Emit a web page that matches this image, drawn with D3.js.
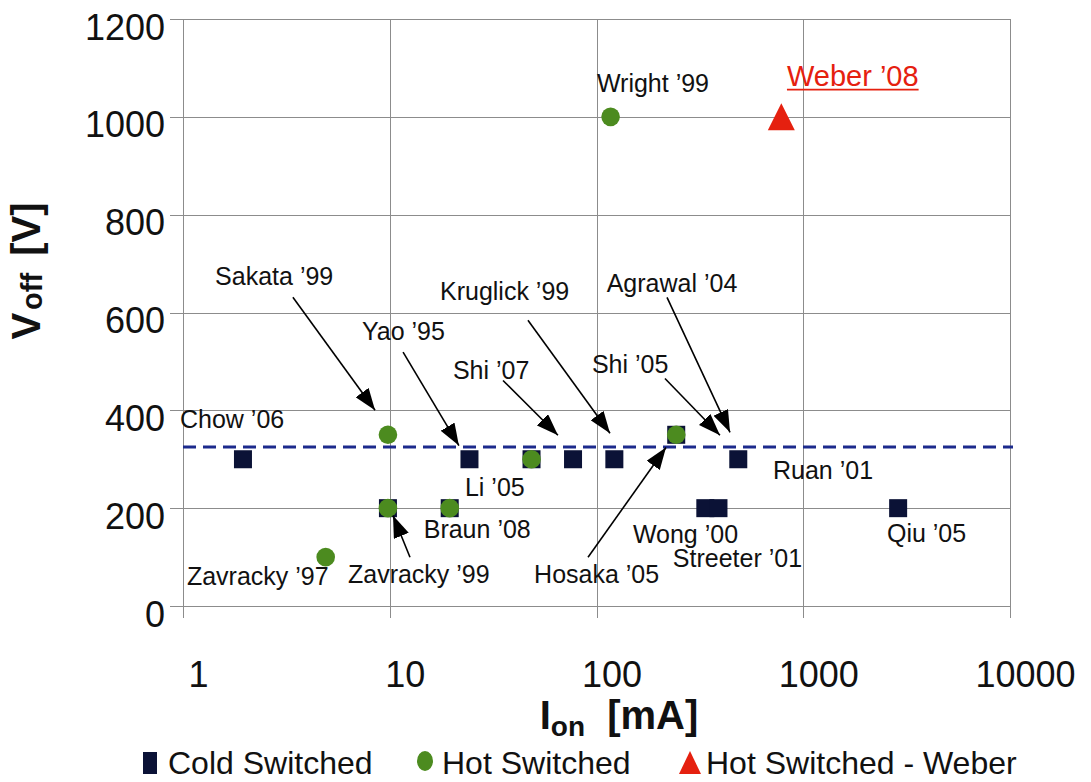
<!DOCTYPE html>
<html>
<head>
<meta charset="utf-8">
<script src="https://cdn.jsdelivr.net/npm/d3@7"></script>
<style>
  body { margin: 0; background: #fff; }
  svg { display: block; }
  text { font-family: "Liberation Sans", Arial, Helvetica, sans-serif; }
</style>
</head>
<body>
<svg id="chart" width="1091" height="782"></svg>
<script>
// ---- Data: switch current I_on [mA] vs. hold-off voltage V_off [V] ----
const coldCurrent = [1.95, 9.8, 19.5, 24.3, 48.5, 77, 122, 243, 336, 389, 485, 2877];
const coldVoltage = [300, 200, 200, 300, 300, 300, 300, 350, 200, 200, 300, 200];

const hotCurrent = [4.9, 9.8, 9.8, 19.5, 48.5, 243, 117];
const hotVoltage = [100, 350, 200, 200, 300, 350, 1000];

const weberCurrent = [783];
const weberVoltage = [1000];

// reference voltage level drawn as a dashed line
const referenceVoltage = 325;

const xTicks = [1, 10, 100, 1000, 10000];
const yTicks = [0, 200, 400, 600, 800, 1000, 1200];
const seriesNames = ["Cold Switched", "Hot Switched", "Hot Switched - Weber"];

// Publication labels, anchored in data space (text start, baseline)
const labelText    = ["Wright '99", "Sakata '99", "Chow '06", "Yao '95", "Kruglick '99", "Shi '07",
                      "Agrawal '04", "Shi '05", "Li '05", "Braun '08", "Ruan '01", "Wong '00",
                      "Streeter '01", "Qiu '05", "Zavracky '97", "Zavracky '99", "Hosaka '05"];
const labelCurrent = [100.5, 1.43, 0.967, 7.34, 17.5, 20.2, 112, 95, 23.1, 14.6, 714, 150,
                      234, 2540, 1.045, 6.28, 49.9];
const labelVoltage = [1050, 656, 363, 543, 625, 465, 641, 476, 224, 140, 259, 128,
                      79, 130, 42, 46, 46];

const weberLabel = "Weber '08";
const weberLabelCurrent = 834;
const weberLabelVoltage = 1064;

// Leader arrows (tail -> head) in data space
const arrowFromCurrent = [3.40, 11.6, 35.3, 46.6, 214.4, 219.3, 12.53, 91.0];
const arrowFromVoltage = [631, 519, 461, 584, 465, 631, 99.6, 99.6];
const arrowToCurrent   = [8.49, 21.6, 65.1, 116.2, 395.5, 442.4, 10.37, 216.8];
const arrowToVoltage   = [400, 328, 349, 353, 349, 355, 185, 324];

// ---- Layout ----
const svg = d3.select("#chart");
const plot = { left: 183, right: 1010, top: 19, bottom: 606 };

const x = d3.scaleLog().domain([1, 10000]).range([plot.left, plot.right]);
const y = d3.scaleLinear().domain([0, 1200]).range([plot.bottom, plot.top]);

const colors = { cold: "#0b1236", hot: "#4c8b1f", weber: "#e5200f", ref: "#1c2a8c", grid: "#8c8c8c" };

// ---- Grid ----
const grid = svg.append("g");
grid.selectAll("line.h").data(yTicks).join("line")
  .attr("x1", plot.left - 13).attr("x2", plot.right)
  .attr("y1", d => Math.round(y(d)) + 0.5).attr("y2", d => Math.round(y(d)) + 0.5)
  .attr("stroke", colors.grid).attr("stroke-width", 1);
grid.selectAll("line.v").data(xTicks).join("line")
  .attr("x1", d => Math.round(x(d)) + 0.5).attr("x2", d => Math.round(x(d)) + 0.5)
  .attr("y1", plot.top).attr("y2", plot.bottom + 12)
  .attr("stroke", colors.grid).attr("stroke-width", 1);

// ---- Axes (labels only; lines are the grid) ----
const xAxis = svg.append("g")
  .attr("transform", `translate(15,${plot.bottom})`)
  .call(d3.axisBottom(x).tickValues(xTicks).tickFormat(d3.format("d")).tickSize(0).tickPadding(0));
xAxis.select(".domain").remove();
xAxis.selectAll("text")
  .attr("y", 81).attr("dy", null)
  .attr("font-size", 36).attr("fill", "#111")
  .style("font-family", "'Liberation Sans', Arial, sans-serif");

const yAxis = svg.append("g")
  .attr("transform", `translate(${plot.left},0)`)
  .call(d3.axisLeft(y).tickValues(yTicks).tickFormat(d3.format("d")).tickSize(0).tickPadding(18));
yAxis.select(".domain").remove();
yAxis.selectAll("text")
  .attr("dy", 20)
  .attr("font-size", 36).attr("fill", "#111")
  .style("font-family", "'Liberation Sans', Arial, sans-serif");

// ---- Axis titles ----
const xTitle = svg.append("text")
  .attr("x", 619).attr("y", 729)
  .attr("text-anchor", "middle")
  .attr("font-size", 40).attr("font-weight", "bold").attr("fill", "#111");
xTitle.append("tspan").text("I");
xTitle.append("tspan").attr("font-size", 28).attr("dy", 7).text("on");
xTitle.append("tspan").attr("dy", -7).text("\u00a0 [mA]");

const yTitle = svg.append("text")
  .attr("transform", "translate(40,271) rotate(-90)")
  .attr("text-anchor", "middle")
  .attr("font-size", 40).attr("font-weight", "bold").attr("fill", "#111");
yTitle.append("tspan").text("V");
yTitle.append("tspan").attr("font-size", 29).attr("dx", 3).attr("dy", 2).text("off");
yTitle.append("tspan").attr("dx", 6).attr("dy", -2).text(" [V]");

// ---- Reference level ----
svg.append("line")
  .attr("x1", plot.left).attr("x2", plot.right + 3)
  .attr("y1", y(referenceVoltage)).attr("y2", y(referenceVoltage))
  .attr("stroke", colors.ref).attr("stroke-width", 3)
  .attr("stroke-dasharray", "13,7");

// ---- Marks ----
const sq = 18;
svg.append("g").selectAll("rect")
  .data(d3.range(coldCurrent.length)).join("rect")
  .attr("x", i => x(coldCurrent[i]) - sq / 2)
  .attr("y", i => y(coldVoltage[i]) - sq / 2)
  .attr("width", sq).attr("height", sq)
  .attr("fill", colors.cold);

svg.append("g").selectAll("circle")
  .data(d3.range(hotCurrent.length)).join("circle")
  .attr("cx", i => x(hotCurrent[i]))
  .attr("cy", i => y(hotVoltage[i]))
  .attr("r", 9.3)
  .attr("fill", colors.hot);

const tri = 13.5;
svg.append("g").selectAll("path")
  .data(d3.range(weberCurrent.length)).join("path")
  .attr("transform", i => `translate(${x(weberCurrent[i])},${y(weberVoltage[i])})`)
  .attr("d", `M0,${-tri}L${tri},${tri}L${-tri},${tri}Z`)
  .attr("fill", colors.weber);

// ---- Leader arrows ----
const defs = svg.append("defs");
defs.append("marker")
  .attr("id", "head")
  .attr("viewBox", "0 -8 22 16")
  .attr("refX", 22).attr("refY", 0)
  .attr("markerUnits", "userSpaceOnUse")
  .attr("markerWidth", 22).attr("markerHeight", 16)
  .attr("orient", "auto")
  .append("path").attr("d", "M0,-8L22,0L0,8Z").attr("fill", "#000");

svg.append("g").selectAll("line")
  .data(d3.range(arrowFromCurrent.length)).join("line")
  .attr("x1", i => x(arrowFromCurrent[i])).attr("y1", i => y(arrowFromVoltage[i]))
  .attr("x2", i => x(arrowToCurrent[i])).attr("y2", i => y(arrowToVoltage[i]))
  .attr("stroke", "#000").attr("stroke-width", 1.6)
  .attr("marker-end", "url(#head)");

// ---- Labels ----
svg.append("g").selectAll("text")
  .data(d3.range(labelText.length)).join("text")
  .attr("x", i => x(labelCurrent[i]))
  .attr("y", i => y(labelVoltage[i]))
  .attr("font-size", 25).attr("fill", "#111")
  .text(i => labelText[i].replace("'", "\u2019"));

const weberText = svg.append("text")
  .attr("x", x(weberLabelCurrent)).attr("y", y(weberLabelVoltage))
  .attr("font-size", 29).attr("fill", colors.weber)
  .text(weberLabel.replace("'", "\u2019"));
const wLen = weberText.node().getComputedTextLength();
svg.append("line")
  .attr("x1", x(weberLabelCurrent)).attr("x2", x(weberLabelCurrent) + wLen)
  .attr("y1", y(weberLabelVoltage) + 4).attr("y2", y(weberLabelVoltage) + 4)
  .attr("stroke", colors.weber).attr("stroke-width", 1.8);

// ---- Legend ----
const legendY = 763;
const legend = svg.append("g");
const legendItems = [
  { name: seriesNames[0], cx: 150, tx: 168, kind: "square", color: colors.cold },
  { name: seriesNames[1], cx: 425, tx: 442, kind: "circle", color: colors.hot },
  { name: seriesNames[2], cx: 690, tx: 706, kind: "triangle", color: colors.weber }
];
legendItems.forEach(d => {
  if (d.kind === "square") {
    legend.append("rect").attr("x", d.cx - 7).attr("y", legendY - 11)
      .attr("width", 14).attr("height", 22).attr("fill", d.color);
  } else if (d.kind === "circle") {
    legend.append("ellipse").attr("cx", d.cx).attr("cy", legendY - 2)
      .attr("rx", 8).attr("ry", 10).attr("fill", d.color);
  } else {
    legend.append("path").attr("transform", `translate(${d.cx},${legendY})`)
      .attr("d", "M0,-12L11,11L-11,11Z").attr("fill", d.color);
  }
  legend.append("text").attr("x", d.tx).attr("y", legendY + 11)
    .attr("font-size", 32).attr("fill", "#111").text(d.name);
});
</script>
</body>
</html>
